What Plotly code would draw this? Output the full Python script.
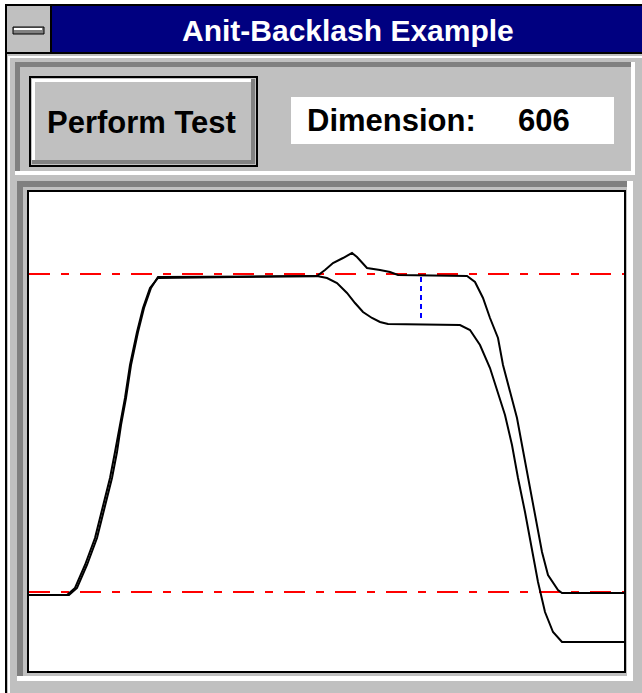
import plotly.graph_objects as go

# ---------------- data ----------------
# curve A: upper response (ends on the lower limit)
curve_a_x = [0, 38, 46, 56, 66, 74, 81, 86, 91, 96, 101, 108, 114, 121, 129, 288, 296, 304, 314, 323,
             328, 333, 338, 351, 361, 369, 438, 446, 454, 461, 469, 474, 481, 488, 493, 498, 503, 508,
             513, 519, 529, 533, 595]
curve_a_y = [76, 76, 83, 106, 133, 166, 193, 219, 246, 273, 306, 339, 363, 383, 393, 395, 401, 408, 413, 418,
             414, 408, 403, 401, 399, 396, 395, 389, 373, 353, 333, 306, 279, 253, 226, 199, 173, 146,
             119, 96, 81, 78, 78]
# curve B: lower response (with backlash)
curve_b_x = [0, 40, 48, 58, 68, 76, 83, 88, 92, 97, 102, 109, 115, 122, 129, 288, 298, 308, 318, 326,
             334, 343, 351, 359, 431, 441, 451, 461, 469, 476, 483, 489, 496, 503, 509, 516, 524, 533, 595]
curve_b_y = [76, 76, 83, 106, 133, 166, 193, 219, 246, 273, 306, 339, 363, 383, 394, 395, 393, 388, 378, 368,
             359, 353, 349, 347, 346, 341, 326, 303, 279, 256, 226, 193, 159, 123, 89, 59, 39, 29, 29]
# limit levels (red dash-dot lines)
limit_levels = [397, 79]
x_span = [0, 595]
# measured gap (blue dashed line)
gap_x = [392, 392]
gap_y = [394, 349]

title_text = "Anit-Backlash Example"
button_text = "Perform Test"
dim_label = "Dimension:"
dim_value = "606"

# ---------------- layout geometry ----------------
W, H = 642, 693
L, R, T, B = 29, 624, 192, 671
PW, PH = R - L, B - T

def px(x):
    return (x - L) / PW

def py(y):
    return (B - y) / PH

GRAY = "#C0C0C0"
DARK = "#808080"
NAVY = "#000080"

shapes = []

def rect(x0, y0, x1, y1, fill, line_color=None, lw=0):
    shapes.append(dict(type="rect", xref="paper", yref="paper",
                       x0=px(x0), x1=px(x1), y0=py(y1), y1=py(y0),
                       fillcolor=fill, line=dict(color=line_color or fill, width=lw),
                       layer="above"))

# outer white margin and window border
rect(0, 0, 5, H, "white")
rect(0, 0, W, 4, "white")
rect(5, 4, 7, H, "black")
rect(5, 4, W, 6, "black")
# title bar
rect(52, 6, W, 52, NAVY)
rect(7, 6, 50, 52, GRAY)
rect(50, 6, 52, 52, "black")
rect(5, 52, W, 54, "black")
# control-box glyph
rect(13, 27, 44, 34, DARK, "black", 1)
rect(14, 28, 42, 30, "white")

# window frame highlight
rect(8, 56, 10, H, "white")
rect(8, 56, W, 58, "white")

# top panel (sunken)
rect(15, 62, 635, 67, DARK)
rect(15, 62, 20, 175, DARK)
rect(15, 171, 635, 175, "white")
rect(631, 62, 635, 175, "white")

# button
rect(30, 77, 257, 166, GRAY, "black", 2)
rect(32, 79, 254, 82, "white")
rect(32, 79, 35, 163, "white")
rect(32, 160, 255, 164, DARK)
rect(251, 79, 255, 164, DARK)

# dimension box
rect(291, 97, 614, 144, "white")

# plot panel frame (sunken)
rect(17, 181, 631, 187, DARK)
rect(17, 181, 23, 680, DARK)
rect(17, 676, 633, 681, "white")
rect(627, 181, 633, 681, "white")

FONT = "Liberation Sans"
annotations = [
    dict(text=f"<b>{title_text}</b>", x=px(348), y=py(30), xref="paper", yref="paper",
         showarrow=False, xanchor="center", yanchor="middle",
         font=dict(family=FONT, size=30, color="white")),
    dict(text=f"<b>{button_text}</b>", x=px(141), y=py(122), xref="paper", yref="paper",
         showarrow=False, xanchor="center", yanchor="middle",
         font=dict(family=FONT, size=31, color="black")),
    dict(text=f"<b>{dim_label}</b>", x=px(305), y=py(120), xref="paper", yref="paper",
         showarrow=False, xanchor="left", yanchor="middle",
         font=dict(family=FONT, size=31, color="black")),
    dict(text=f"<b>{dim_value}</b>", x=px(516), y=py(120), xref="paper", yref="paper",
         showarrow=False, xanchor="left", yanchor="middle",
         font=dict(family=FONT, size=31, color="black")),
]

fig = go.Figure()
for lvl in limit_levels:
    fig.add_trace(go.Scatter(x=x_span, y=[lvl, lvl], mode="lines",
                             line=dict(color="#FF0000", width=2, dash="21px,11px,8px,11px"),
                             hoverinfo="skip", showlegend=False))
fig.add_trace(go.Scatter(x=curve_a_x, y=curve_a_y, mode="lines",
                         line=dict(color="black", width=2), showlegend=False))
fig.add_trace(go.Scatter(x=curve_b_x, y=curve_b_y, mode="lines",
                         line=dict(color="black", width=2), showlegend=False))
fig.add_trace(go.Scatter(x=gap_x, y=gap_y, mode="lines",
                         line=dict(color="#0000FF", width=2, dash="5px,4px"), showlegend=False))

axis_common = dict(showgrid=False, zeroline=False, showticklabels=False, ticks="",
                   showline=True, linecolor="black", linewidth=2, mirror=True, fixedrange=True)
fig.update_xaxes(range=[0, PW], **axis_common)
fig.update_yaxes(range=[0, PH], **axis_common)

fig.update_layout(width=W, height=H, margin=dict(l=L, r=W - R, t=T, b=H - B, pad=0),
                  paper_bgcolor=GRAY, plot_bgcolor="white",
                  shapes=shapes, annotations=annotations, showlegend=False)

fig.write_html("out.html", config={"displayModeBar": False},
               post_script="document.body.style.margin='0';document.body.style.overflow='hidden';")
